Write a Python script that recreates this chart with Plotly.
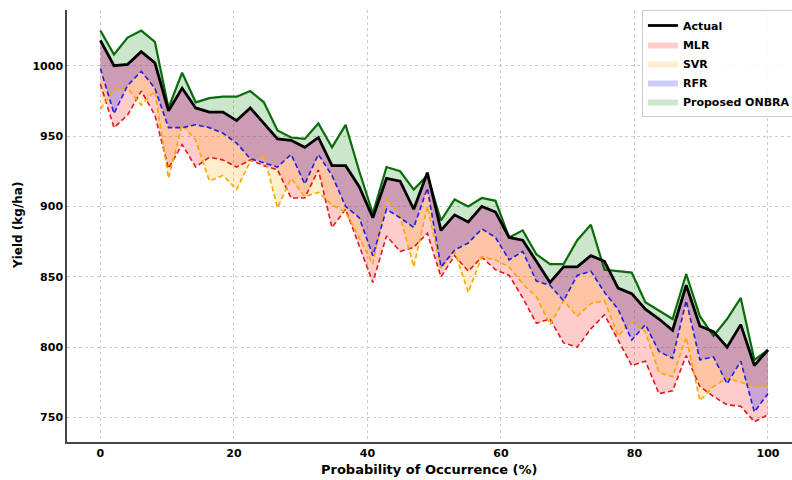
import numpy as np
import plotly.graph_objects as go

# x positions: 50 evenly spaced probabilities from 0 to 100
prob = list(np.linspace(0, 100, 50))

actual = [1018, 1000, 1001, 1010, 1002, 968, 984, 970, 967, 967,
          961, 970, 959, 948, 947, 942, 949, 929, 929, 914,
          892, 920, 918, 898, 924, 883, 894, 889, 900, 896,
          878, 876, 861, 846, 857, 857, 865, 861, 842, 838,
          827, 820, 812, 844, 815, 811, 800, 816, 787, 798]

onbra = [1025, 1008, 1020, 1025, 1017, 970, 995, 974, 977, 978,
         978, 982, 974, 954, 949, 948, 959, 942, 958, 925,
         895, 928, 925, 912, 922, 890, 905, 900, 906, 904,
         878, 883, 866, 859, 859, 876, 887, 855, 854, 853,
         832, 826, 820, 852, 822, 808, 820, 835, 791, 798]

rfr = [998, 966, 986, 996, 984, 956, 956, 958, 956, 952,
       945, 934, 931, 928, 937, 916, 937, 922, 900, 892,
       865, 898, 892, 885, 913, 857, 869, 874, 884, 878,
       862, 868, 847, 844, 833, 851, 854, 839, 827, 805,
       816, 797, 792, 833, 791, 793, 774, 790, 754, 767]

mlr = [987, 956, 965, 982, 965, 927, 944, 928, 935, 933,
       928, 933, 929, 926, 906, 906, 926, 885, 898, 872,
       846, 879, 868, 871, 881, 850, 865, 854, 864, 855,
       851, 835, 817, 820, 803, 800, 813, 823, 805, 787,
       790, 767, 769, 794, 772, 765, 759, 758, 747, 752]

svr = [969, 983, 984, 972, 982, 920, 958, 947, 918, 922,
       912, 932, 937, 899, 920, 907, 910, 901, 896, 877,
       859, 906, 893, 857, 900, 856, 868, 839, 864, 862,
       857, 845, 836, 816, 833, 822, 831, 833, 808, 818,
       811, 782, 779, 807, 762, 772, 778, 775, 772, 772]

x_ticks = [0, 20, 40, 60, 80, 100]
y_ticks = [750, 800, 850, 900, 950, 1000]

models = [
    ("MLR", mlr, "rgba(255,0,0,0.2)", "#e31a1c", "dash"),
    ("SVR", svr, "rgba(255,165,0,0.2)", "#ffa500", "dash"),
    ("RFR", rfr, "rgba(0,0,255,0.2)", "#1f1fe0", "dash"),
    ("Proposed ONBRA", onbra, "rgba(0,128,0,0.2)", "#0b6b0b", "solid"),
]

FONT = "DejaVu Sans"
fig = go.Figure()

# fills between actual and each model
for rank, (name, vals, fcol, lcol, dash) in enumerate(models):
    fig.add_trace(go.Scatter(x=prob, y=actual, mode="lines", line=dict(width=0, color=fcol),
                             showlegend=False, hoverinfo="skip"))
    fig.add_trace(go.Scatter(x=prob, y=vals, mode="lines", fill="tonexty", fillcolor=fcol,
                             line=dict(width=0, color=fcol), name=name, legendrank=rank + 2))

# model lines
for name, vals, fcol, lcol, dash in models:
    if dash == "dash":
        fig.add_trace(go.Scatter(x=prob, y=vals, mode="lines",
                                 line=dict(width=1.6, color=lcol, dash="5px,3px"),
                                 showlegend=False, hoverinfo="skip"))
    else:
        fig.add_trace(go.Scatter(x=prob, y=vals, mode="lines",
                                 line=dict(width=2.2, color=lcol),
                                 showlegend=False, hoverinfo="skip"))

fig.add_trace(go.Scatter(x=prob, y=actual, mode="lines", line=dict(width=2.8, color="black"),
                         name="Actual", legendrank=1))

fig.update_layout(
    width=792, height=480,
    margin=dict(l=67, r=0, t=10, b=38, autoexpand=False),
    paper_bgcolor="white", plot_bgcolor="white",
    font=dict(family=FONT, size=11, color="black"),
    showlegend=True,
    legend=dict(x=0.793, y=1.0, xanchor="left", yanchor="top", traceorder="normal",
                bgcolor="rgba(255,255,255,0.9)", bordercolor="#cccccc", borderwidth=1,
                font=dict(family=FONT, size=11, color="black", weight="bold"),
                tracegroupgap=0, itemwidth=30),
    annotations=[
        dict(text="Probability of Occurrence (%)", xref="paper", yref="paper", x=0.5, y=0,
             xanchor="center", yanchor="middle", yshift=-27, showarrow=False,
             font=dict(family=FONT, size=13, weight="bold", color="black")),
        dict(text="Yield (kg/ha)", xref="paper", yref="paper", x=0, y=0.5,
             xanchor="center", yanchor="middle", xshift=-49, textangle=-90, showarrow=False,
             font=dict(family=FONT, size=12, weight="bold", color="black")),
    ],
)

fig.update_xaxes(range=[-5, 103.6], tickvals=x_ticks, ticktext=[str(v) for v in x_ticks],
                 showgrid=True, gridcolor="#cccccc", griddash="dot", gridwidth=1,
                 showline=True, linecolor="#444444", linewidth=1.5, zeroline=False,
                 ticks="", automargin=False, tickfont=dict(family=FONT, size=11, weight="bold"))
fig.update_yaxes(range=[732.6, 1039.6], tickvals=y_ticks, ticktext=[str(v) for v in y_ticks],
                 showgrid=True, gridcolor="#cccccc", griddash="dot", gridwidth=1,
                 showline=True, linecolor="#444444", linewidth=1.5, zeroline=False,
                 ticks="", automargin=False, tickfont=dict(family=FONT, size=11, weight="bold"))

fig.write_html("out.html", config={"displayModeBar": False},
               post_script="document.body.style.margin='0';document.body.style.overflow='hidden';")
